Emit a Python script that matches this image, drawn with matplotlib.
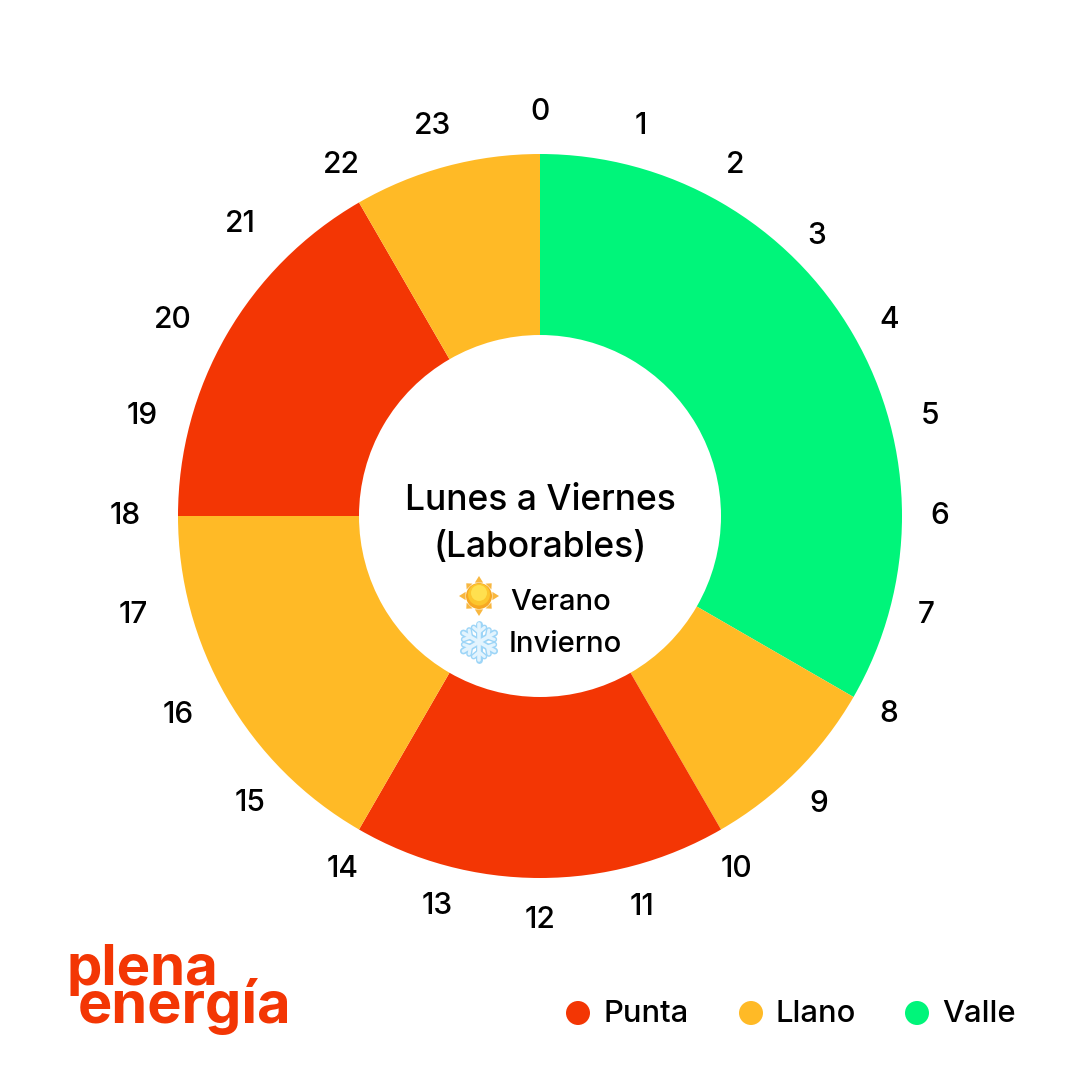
import numpy as np
import matplotlib.pyplot as plt
from matplotlib.patches import Circle, Polygon

plt.rcParams['font.family'] = ['Inter', 'DejaVu Sans']

# tramos horarios, en sentido horario desde las 0h
periods = ['Valle', 'Llano', 'Punta', 'Llano', 'Punta', 'Llano']
hours = [8, 2, 4, 4, 4, 2]
colors = {'Punta': '#F33604', 'Llano': '#FFBA26', 'Valle': '#00F57A'}
hour_labels = [str(h) for h in range(24)]
legend_names = ['Punta', 'Llano', 'Valle']

# ajuste de cada etiqueta horaria respecto al circulo
nudge_x = [0, -3, -6, -8, 0, 1, -3, -3, 0, -6, -5, -2,
           0, 1, 4, -5, -13, -17, -12, -9, -18, -15, 3, -3]
nudge_y = [1, 1, 2, -5, -6, -4, 0, 5, 3, -3, -4, -2,
           -1, -1, -4, -2, 3, 5, 0, -4, -6, 7, 2, 1]

W = 1080
cx, cy = 540, 1080 - 516
R = 362


def Y(y):
    return W - y


fig = plt.figure(figsize=(10.8, 10.8), dpi=100, facecolor='white')
ax = fig.add_axes([0, 0, 1, 1])

ax.pie(hours, colors=[colors[p] for p in periods], startangle=90, counterclock=False,
       center=(cx, cy), radius=R, wedgeprops={'width': R / 2, 'linewidth': 0})

ax.set_xlim(0, W)
ax.set_ylim(0, W)
ax.set_aspect('equal')
ax.axis('off')

# horas alrededor del anillo
for i, lab in enumerate(hour_labels):
    a = np.radians(i * 15)
    ax.text(cx + 403 * np.sin(a) + nudge_x[i], cy + 403 * np.cos(a) + nudge_y[i], lab,
            ha='center', va='center', fontsize=21.5, fontweight='medium', color='black')

# texto central
ax.text(540, Y(501), 'Lunes a Viernes', ha='center', va='center', fontsize=25.5, fontweight='medium', color='black')
ax.text(540, Y(548), '(Laborables)', ha='center', va='center', fontsize=25.5, fontweight='medium', color='black')
ax.text(510, Y(603), 'Verano', ha='left', va='center', fontsize=21, fontweight='medium', color='black')
ax.text(509, Y(645), 'Invierno', ha='left', va='center', fontsize=21, fontweight='medium', color='black')

# icono del sol
sx, sy = 479, Y(596)
for k in range(8):
    a = np.radians(k * 45)
    length = 20 if k % 2 == 0 else 18
    tip = (sx + length * np.cos(a), sy + length * np.sin(a))
    b1 = (sx + 14 * np.cos(a + 0.3), sy + 14 * np.sin(a + 0.3))
    b2 = (sx + 14 * np.cos(a - 0.3), sy + 14 * np.sin(a - 0.3))
    ax.add_patch(Polygon([tip, b1, b2], closed=True, facecolor='#F8B740', edgecolor='none'))
ax.add_patch(Circle((sx, sy), 13, facecolor='#F7A823', edgecolor='none'))
ax.add_patch(Circle((sx, sy + 1.5), 11, facecolor='#FCC62E', edgecolor='none'))
ax.add_patch(Circle((sx, sy + 3), 8, facecolor='#FFE04F', edgecolor='none'))

# icono del copo de nieve
fx, fy = 479, Y(642)
for lw, col in [(5, '#9DD5F7'), (2.6, '#E3F4FE')]:
    for k in range(6):
        a = np.radians(90 + k * 60)
        ax.plot([fx, fx + 18 * np.cos(a)], [fy, fy + 18 * np.sin(a)],
                color=col, lw=lw, solid_capstyle='round')
        mx, my = fx + 10 * np.cos(a), fy + 10 * np.sin(a)
        for s in (-1, 1):
            b = a + s * np.radians(50)
            ax.plot([mx, mx + 7 * np.cos(b)], [my, my + 7 * np.sin(b)],
                    color=col, lw=lw * 0.85, solid_capstyle='round')
ax.add_patch(Circle((fx, fy), 5, facecolor='#E3F4FE', edgecolor='#9DD5F7', lw=1))

# logo
ax.text(66, Y(985), 'plena', ha='left', va='baseline', fontsize=40.5, fontweight='bold', color=colors['Punta'])
ax.text(78, Y(1023), 'energía', ha='left', va='baseline', fontsize=41.5, fontweight='bold', color=colors['Punta'])

# leyenda
for name, dot_x, text_x in zip(legend_names, [578, 751, 917], [603, 776, 942]):
    ax.add_patch(Circle((dot_x, Y(1013)), 12, facecolor=colors[name], edgecolor='none'))
    ax.text(text_x, Y(1014), name, ha='left', va='center', fontsize=22.3, fontweight='medium', color='black')

fig.savefig('out.png', dpi=100, facecolor='white')
